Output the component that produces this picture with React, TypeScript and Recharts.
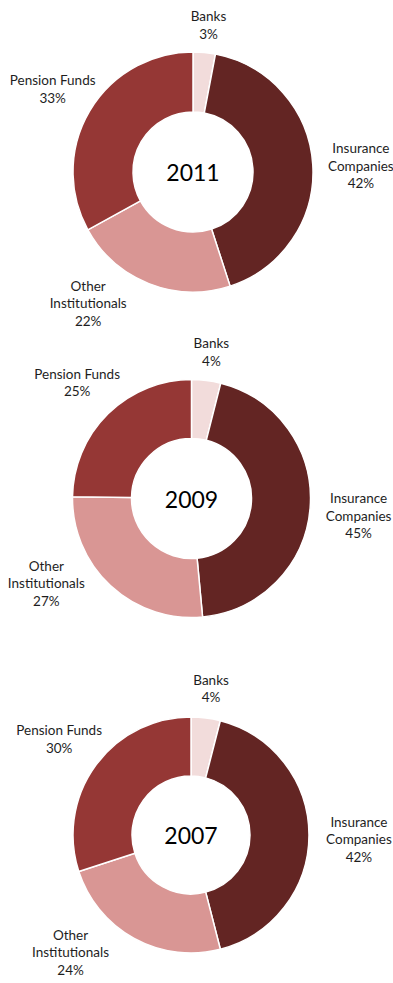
import { PieChart, Pie, Cell } from "recharts";

// shares by investor type, clockwise from 12 o'clock
const CATEGORIES = ["Banks", "Insurance Companies", "Other Institutionals", "Pension Funds"];
const YEARS = ["2011", "2009", "2007"];
const SHARE_2011 = [3, 42, 22, 33];
const SHARE_2009 = [4, 45, 27, 25];
const SHARE_2007 = [4, 42, 24, 30];

const COLORS = ["#F2DCDB", "#632523", "#D99694", "#953735"];

// how each category label is broken into lines
const LABEL_LINES = [["Banks"], ["Insurance", "Companies"], ["Other", "Institutionals"], ["Pension Funds"]];
// label placement around the ring: angle nudge (deg, clockwise) and distance from centre
const LABEL_PLACE = [
  { nudge: 0.6, dist: 148 },
  { nudge: 1.5, dist: 168 },
  { nudge: 17, dist: 168 },
  { nudge: 0, dist: 163 },
];

// one ring per year
const RINGS = [
  { cx: 193, cy: 172, outer: 120, inner: 60 },
  { cx: 191.5, cy: 498.5, outer: 119, inner: 60 },
  { cx: 191, cy: 835, outer: 118, inner: 59 },
];

const SERIES = [SHARE_2011, SHARE_2009, SHARE_2007];
const FONT = "Lato, 'Open Sans', sans-serif";
const LINE_H = 17.5;

function makeLabel(year: string) {
  return (props: any) => {
    const { cx, cy, midAngle, index, value } = props;
    const place = LABEL_PLACE[index];
    const a = ((midAngle - place.nudge) * Math.PI) / 180;
    const x = cx + place.dist * Math.cos(a);
    const y = cy - place.dist * Math.sin(a);
    const lines = [...LABEL_LINES[index], `${value}%`];
    const top = y - ((lines.length - 1) * LINE_H) / 2;
    return (
      <g key={`lbl-${year}-${index}`}>
        <text
          x={x}
          y={top}
          textAnchor="middle"
          dominantBaseline="central"
          fontFamily={FONT}
          fontSize={13.5}
          fill="#1e1e1e"
        >
          {lines.map((ln, i) => (
            <tspan key={i} x={x} y={top + i * LINE_H}>
              {ln}
            </tspan>
          ))}
        </text>
        {index === 0 && (
          <text
            x={cx}
            y={cy}
            textAnchor="middle"
            dominantBaseline="central"
            fontFamily={FONT}
            fontSize={23}
            fill="#000"
          >
            {year}
          </text>
        )}
      </g>
    );
  };
}

export default function App() {
  return (
    <div style={{ position: "absolute", left: 0, top: 0, width: 393, height: 983, background: "#fff" }}>
      <PieChart width={393} height={983} margin={{ top: 0, right: 0, bottom: 0, left: 0 }}>
        {SERIES.map((values, k) => {
          const data = CATEGORIES.map((name, i) => ({ name, value: values[i] }));
          const ring = RINGS[k];
          return (
            <Pie
              key={YEARS[k]}
              data={data}
              dataKey="value"
              nameKey="name"
              cx={ring.cx}
              cy={ring.cy}
              innerRadius={ring.inner}
              outerRadius={ring.outer}
              startAngle={90}
              endAngle={-270}
              stroke="#fff"
              strokeWidth={1.5}
              labelLine={false}
              label={makeLabel(YEARS[k])}
              isAnimationActive={false}
            >
              {data.map((_, i) => (
                <Cell key={i} fill={COLORS[i]} />
              ))}
            </Pie>
          );
        })}
      </PieChart>
    </div>
  );
}
